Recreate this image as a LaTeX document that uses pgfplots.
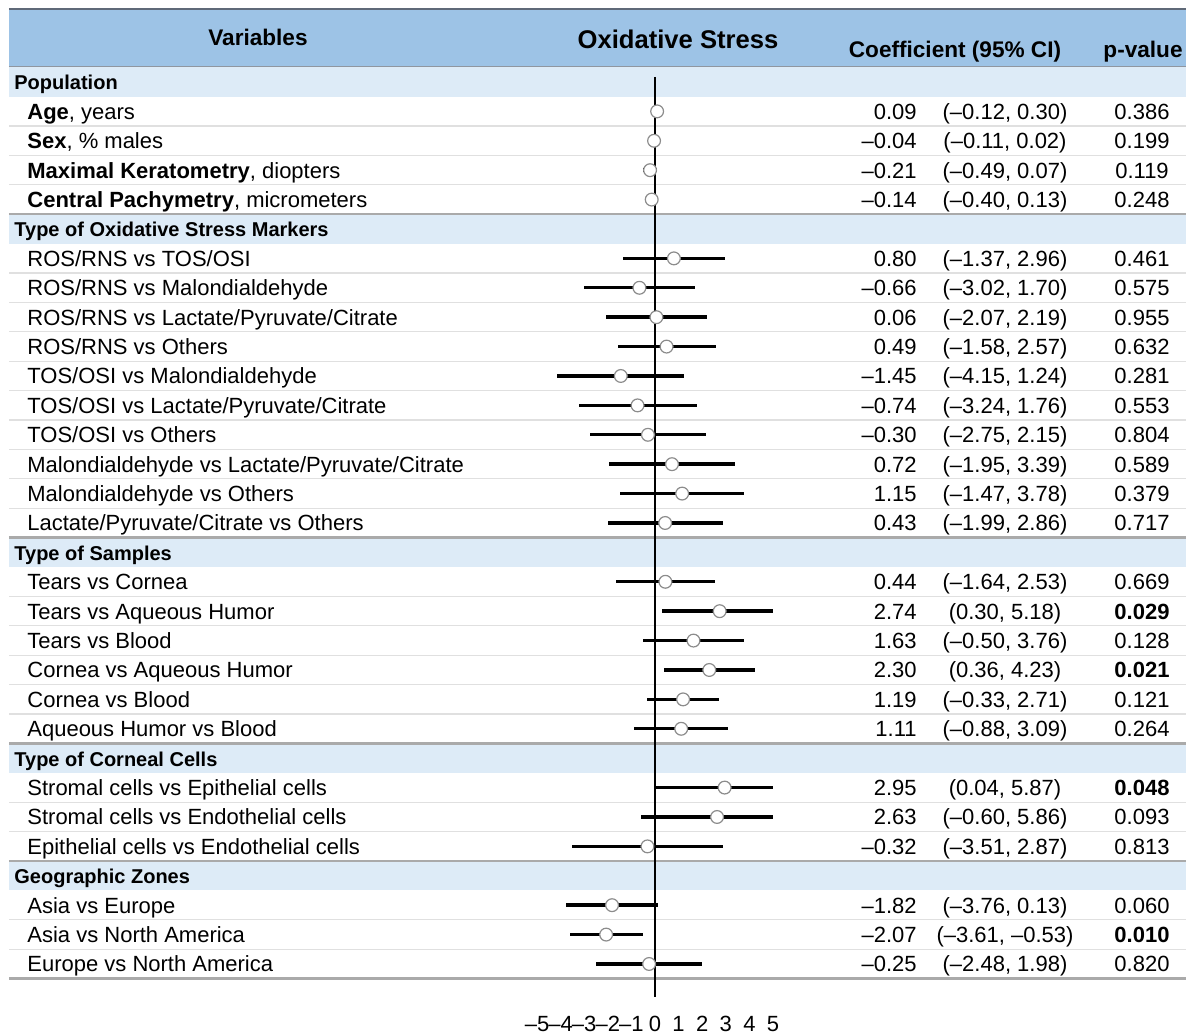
\documentclass[border=0pt]{standalone}
\usepackage{pgfplots}
\pgfplotsset{compat=1.18}
\usepackage{pgfplotstable}
\usepackage{fontspec}
\setmainfont{Liberation Sans}
\definecolor{hdr}{RGB}{157,195,230}
\definecolor{sec}{RGB}{221,235,247}
\definecolor{sep}{RGB}{224,224,224}
\definecolor{secline}{RGB}{170,170,170}
\definecolor{border}{RGB}{95,105,120}

\pgfplotstableread{
row c lo hi
1 0.09 -0.12 0.30
2 -0.04 -0.11 0.02
3 -0.21 -0.49 0.07
4 -0.14 -0.40 0.13
6 0.80 -1.37 2.96
7 -0.66 -3.02 1.70
8 0.06 -2.07 2.19
9 0.49 -1.58 2.57
10 -1.45 -4.15 1.24
11 -0.74 -3.24 1.76
12 -0.30 -2.75 2.15
13 0.72 -1.95 3.39
14 1.15 -1.47 3.78
15 0.43 -1.99 2.86
17 0.44 -1.64 2.53
18 2.74 0.30 5.18
19 1.63 -0.50 3.76
20 2.30 0.36 4.23
21 1.19 -0.33 2.71
22 1.11 -0.88 3.09
24 2.95 0.04 5.87
25 2.63 -0.60 5.86
26 -0.32 -3.51 2.87
28 -1.82 -3.76 0.13
29 -2.07 -3.61 -0.53
30 -0.25 -2.48 1.98
}\data

\newcommand\X[1]{{(#1-655)/23.6}}
\tikzset{rt/.style={inner sep=0,yshift=-4pt}}
\newcommand\Row[5]{%
  \node[rt,anchor=base west] at (axis cs:\X{27},-#1) {#2};
  \node[rt,anchor=base east] at (axis cs:\X{917},-#1) {#3};
  \node[rt,anchor=base] at (axis cs:\X{1005},-#1) {#4};
  \node[rt,anchor=base] at (axis cs:\X{1142},-#1) {#5};}
\newcommand\Sec[2]{%
  \fill[sec] (axis cs:\X{9},{-#1+0.5}) rectangle (axis cs:\X{1186},{-#1-0.5});
  \node[rt,anchor=base west,font=\bfseries] at (axis cs:\X{14},-#1) {#2};}

\begin{document}
\begin{tikzpicture}
\begin{axis}[
  scale only axis, width=596pt, height=506pt,
  xmin=-27.754, xmax=22.754, ymin=-31.633, ymax=2.789,
  axis line style={draw=none},
  xtick={-5,-4,-3,-2,-1,0,1,2,3,4,5},
  xticklabels={–5,–4,–3,–2,–1,0,1,2,3,4,5},
  ytick=\empty,
  major tick length=0pt,
  clip=false,
  font=\fontsize{11}{13}\selectfont,
  xticklabel style={font=\fontsize{11}{13}\selectfont, yshift=1.5pt},
]
% header band
\fill[hdr] (axis cs:\X{9},2.483) rectangle (axis cs:\X{1186},0.510);
\draw[border,line width=1pt] (axis cs:\X{9},2.483) -- (axis cs:\X{1186},2.483);
\draw[border!70,line width=0.8pt] (axis cs:\X{9},0.510) -- (axis cs:\X{1186},0.510);
% sections
\Sec{0}{Population}
\Sec{5}{Type of Oxidative Stress Markers}
\Sec{16}{Type of Samples}
\Sec{23}{Type of Corneal Cells}
\Sec{27}{Geographic Zones}
% row separators
\pgfplotsinvokeforeach{1,2,3,6,7,8,9,10,11,12,13,14,17,18,19,20,21,24,25,28,29}{
  \draw[sep,line width=0.6pt] (axis cs:\X{9},{-#1-0.5}) -- (axis cs:\X{1186},{-#1-0.5});}
\pgfplotsinvokeforeach{4,15,22,26,30}{
  \draw[secline,line width=1.2pt] (axis cs:\X{9},{-#1-0.5}) -- (axis cs:\X{1186},{-#1-0.5});}
% header texts
\node[font=\bfseries\fontsize{11.3}{14}\selectfont] at (axis cs:\X{258},1.531) {Variables};
\node[font=\bfseries\fontsize{12.8}{15}\selectfont] at (axis cs:\X{678},1.463) {Oxidative Stress};
\node[font=\bfseries\fontsize{11.3}{14}\selectfont] at (axis cs:\X{955},1.020) {Coefficient (95\% CI)};
\node[font=\bfseries\fontsize{11.3}{14}\selectfont] at (axis cs:\X{1143},1.020) {p-value};
% zero line
\draw[black,line width=1.2pt] (axis cs:0,0.17) -- (axis cs:0,-31.12);
% rows
\Row{1}{\textbf{Age}, years}{0.09}{(–0.12, 0.30)}{0.386}
\Row{2}{\textbf{Sex}, \% males}{–0.04}{(–0.11, 0.02)}{0.199}
\Row{3}{\textbf{Maximal Keratometry}, diopters}{–0.21}{(–0.49, 0.07)}{0.119}
\Row{4}{\textbf{Central Pachymetry}, micrometers}{–0.14}{(–0.40, 0.13)}{0.248}
\Row{6}{ROS/RNS vs TOS/OSI}{0.80}{(–1.37, 2.96)}{0.461}
\Row{7}{ROS/RNS vs Malondialdehyde}{–0.66}{(–3.02, 1.70)}{0.575}
\Row{8}{ROS/RNS vs Lactate/Pyruvate/Citrate}{0.06}{(–2.07, 2.19)}{0.955}
\Row{9}{ROS/RNS vs Others}{0.49}{(–1.58, 2.57)}{0.632}
\Row{10}{TOS/OSI vs Malondialdehyde}{–1.45}{(–4.15, 1.24)}{0.281}
\Row{11}{TOS/OSI vs Lactate/Pyruvate/Citrate}{–0.74}{(–3.24, 1.76)}{0.553}
\Row{12}{TOS/OSI vs Others}{–0.30}{(–2.75, 2.15)}{0.804}
\Row{13}{Malondialdehyde vs Lactate/Pyruvate/Citrate}{0.72}{(–1.95, 3.39)}{0.589}
\Row{14}{Malondialdehyde vs Others}{1.15}{(–1.47, 3.78)}{0.379}
\Row{15}{Lactate/Pyruvate/Citrate vs Others}{0.43}{(–1.99, 2.86)}{0.717}
\Row{17}{Tears vs Cornea}{0.44}{(–1.64, 2.53)}{0.669}
\Row{18}{Tears vs Aqueous Humor}{2.74}{(0.30, 5.18)}{\textbf{0.029}}
\Row{19}{Tears vs Blood}{1.63}{(–0.50, 3.76)}{0.128}
\Row{20}{Cornea vs Aqueous Humor}{2.30}{(0.36, 4.23)}{\textbf{0.021}}
\Row{21}{Cornea vs Blood}{1.19}{(–0.33, 2.71)}{0.121}
\Row{22}{Aqueous Humor vs Blood}{1.11}{(–0.88, 3.09)}{0.264}
\Row{24}{Stromal cells vs Epithelial cells}{2.95}{(0.04, 5.87)}{\textbf{0.048}}
\Row{25}{Stromal cells vs Endothelial cells}{2.63}{(–0.60, 5.86)}{0.093}
\Row{26}{Epithelial cells vs Endothelial cells}{–0.32}{(–3.51, 2.87)}{0.813}
\Row{28}{Asia vs Europe}{–1.82}{(–3.76, 0.13)}{0.060}
\Row{29}{Asia vs North America}{–2.07}{(–3.61, –0.53)}{\textbf{0.010}}
\Row{30}{Europe vs North America}{–0.25}{(–2.48, 1.98)}{0.820}
% forest plot
\addplot[only marks, mark=*, mark size=3.2pt,
  mark options={fill=white, draw=black!45, line width=0.6pt},
  error bars/.cd, x dir=both, x explicit, error mark=none,
  error bar style={line width=1.7pt, black}]
  table[x=c, y expr=-\thisrow{row},
        x error plus expr={min(\thisrow{hi},5)-\thisrow{c}},
        x error minus expr={\thisrow{c}-\thisrow{lo}}] {\data};
\coordinate (tl) at (rel axis cs:0,1);
\coordinate (br) at (axis cs:22.754,-32.381);
\end{axis}
\pgfresetboundingbox
\path[use as bounding box] (tl) rectangle (br);
\end{tikzpicture}
\end{document}
